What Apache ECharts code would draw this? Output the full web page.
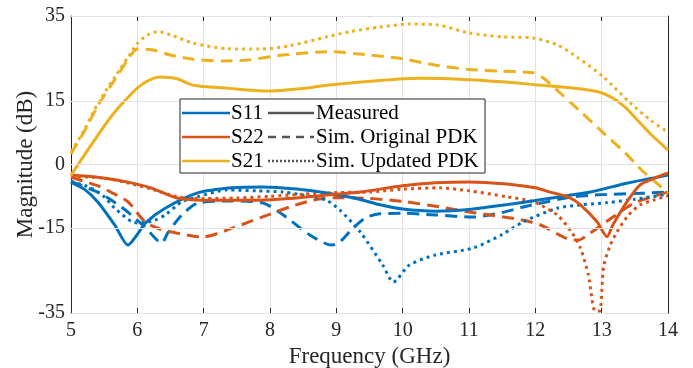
<!DOCTYPE html>
<html>
<head>
<meta charset="utf-8">
<script src="https://cdn.jsdelivr.net/npm/echarts@6/dist/echarts.min.js"></script>
<style>
  html, body { margin: 0; padding: 0; background: #fff; }
  #chart { width: 693px; height: 368px; }
</style>
</head>
<body>
<div id="chart"></div>
<script>
// tick labels
var xTicks = [5, 6, 7, 8, 9, 10, 11, 12, 13, 14];
var yTicks = [-35, -15, 0, 15, 35];

// S21 (yellow)
var s21MeasF = [5, 5.3, 5.6, 5.9, 6.1, 6.34, 6.6, 6.84, 7.35, 7.95, 8.5, 8.86, 9.66, 10.26, 11.0, 11.5, 12.0, 12.5, 12.93, 13.13, 13.35, 13.53, 13.75, 14];
var s21Meas  = [-2.5, 4.5, 11.2, 16.5, 19.2, 20.6, 20.2, 18.7, 18.0, 17.3, 17.9, 18.7, 19.8, 20.3, 20.0, 19.5, 18.8, 18.1, 17.2, 16.0, 13.6, 10.6, 7.0, 3.4];
var s21OrigF = [5, 5.2, 5.41, 5.66, 5.86, 6.0, 6.2, 6.5, 6.84, 7.3, 7.65, 8.2, 8.86, 9.5, 10.0, 10.5, 11.0, 11.5, 11.97, 12.12, 12.4, 12.7, 13.03, 13.35, 13.6, 13.78, 14];
var s21Orig  = [2.5, 7.8, 14.0, 20.0, 24.8, 27.2, 27.1, 25.8, 24.8, 24.4, 24.6, 25.8, 26.6, 25.8, 24.9, 23.4, 22.4, 22.0, 21.6, 20.4, 16.5, 12.2, 7.4, 2.8, -1.3, -3.7, -6.8];
var s21UpdF  = [5, 5.2, 5.41, 5.66, 5.86, 6.0, 6.15, 6.3, 6.5, 6.84, 7.35, 7.85, 8.3, 8.86, 9.2, 9.66, 10.1, 10.52, 11.0, 11.5, 11.97, 12.33, 12.63, 13.03, 13.43, 13.75, 14];
var s21Upd   = [3.0, 8.1, 14.5, 20.6, 25.3, 28.5, 30.5, 31.3, 30.6, 28.6, 27.3, 27.2, 28.0, 30.1, 31.3, 32.4, 33.1, 32.9, 31.0, 30.1, 29.8, 28.2, 25.3, 20.6, 14.5, 10.3, 7.6];

// S11 (blue)
var s11MeasF = [5, 5.2, 5.4, 5.66, 5.86, 6.0, 6.12, 6.42, 6.91, 7.43, 7.9, 8.4, 8.86, 9.3, 9.66, 10.0, 10.5, 11.0, 11.5, 12.0, 12.5, 12.83, 13.38, 14];
var s11Meas  = [-4.2, -5.8, -8.8, -14.3, -19.0, -16.5, -13.8, -10.3, -6.7, -5.5, -5.3, -5.8, -6.7, -8.0, -9.5, -10.5, -11.0, -10.6, -9.6, -8.5, -7.3, -6.5, -4.4, -2.5];
var s11OrigF = [5, 5.4, 5.56, 5.8, 6.1, 6.37, 6.46, 6.67, 6.91, 7.4, 7.9, 8.2, 8.6, 8.93, 9.05, 9.25, 9.45, 9.66, 10.0, 10.5, 11.06, 11.5, 11.82, 12.2, 12.57, 13.0, 13.58, 14];
var s11Orig  = [-4.0, -6.5, -7.9, -10.5, -14.5, -18.5, -16.1, -11.9, -9.1, -8.6, -9.1, -11.9, -16.6, -19.0, -18.3, -15.0, -12.5, -11.6, -11.5, -11.9, -12.4, -11.3, -10.0, -8.7, -7.6, -7.1, -6.8, -6.5];
var s11UpdF  = [5, 5.3, 5.5, 5.66, 5.92, 6.07, 6.27, 6.42, 6.67, 6.91, 7.35, 7.8, 8.2, 8.6, 8.86, 9.05, 9.36, 9.7, 9.86, 10.1, 10.5, 11.06, 11.5, 11.82, 12.33, 12.7, 13.08, 13.5, 14];
var s11Upd   = [-4.0, -5.5, -7.6, -10.3, -13.5, -13.8, -13.1, -11.9, -8.8, -7.6, -6.0, -6.2, -6.5, -7.5, -8.5, -10.7, -15.9, -23.7, -27.7, -23.7, -21.3, -19.7, -16.5, -13.5, -10.3, -9.5, -9.0, -8.2, -7.0];

// S22 (orange)
var s22MeasF = [5, 5.4, 5.84, 6.2, 6.6, 7.0, 7.5, 7.85, 8.3, 8.8, 9.36, 10.0, 10.5, 11.0, 11.57, 12.0, 12.22, 12.5, 12.68, 12.93, 13.08, 13.17, 13.38, 13.58, 13.8, 14];
var s22Meas  = [-2.5, -3.0, -4.1, -5.5, -7.9, -8.4, -8.4, -8.4, -8.0, -7.3, -6.5, -5.0, -4.3, -4.1, -4.6, -5.5, -6.5, -7.7, -9.5, -13.5, -17.0, -14.2, -8.8, -4.8, -3.2, -2.0];
var s22OrigF = [5, 5.4, 5.6, 5.86, 6.12, 6.34, 6.57, 6.98, 7.43, 7.88, 8.3, 8.65, 9.0, 9.5, 10.0, 10.56, 11.0, 11.32, 11.77, 12.07, 12.48, 12.65, 12.83, 13.17, 13.5, 14];
var s22Orig  = [-3.0, -5.0, -6.5, -8.8, -13.6, -15.2, -16.1, -17.1, -15.0, -12.4, -10.0, -8.4, -7.8, -8.0, -8.7, -10.0, -11.2, -11.9, -13.0, -14.2, -17.5, -17.8, -16.1, -12.4, -9.0, -6.5];
var s22UpdF  = [5, 5.5, 5.84, 6.2, 6.6, 7.0, 7.5, 8.0, 8.5, 9.0, 9.5, 10.0, 10.56, 11.0, 11.57, 11.97, 12.33, 12.55, 12.68, 12.8, 12.9, 12.97, 13.03, 13.13, 13.23, 13.4, 13.58, 13.8, 14];
var s22Upd   = [-2.8, -3.2, -4.3, -5.7, -7.6, -8.0, -7.9, -7.5, -7.0, -6.6, -6.5, -5.8, -5.5, -6.2, -7.6, -8.8, -11.9, -16.0, -19.7, -26.0, -34.5, -34.5, -24.0, -19.0, -15.9, -12.0, -9.5, -8.3, -7.4];

var blue = '#0072BD', orange = '#D95319', yellow = '#EDB120', ink = '#262626', gridGray = '#e3e3e3';
var serif = '"Liberation Serif", "DejaVu Serif", serif';

function pairs(f, v) {
    return f.map(function (x, i) { return [x, v[i]]; });
}

function line(name, f, v, color, type) {
    var dash = type === 'dashed' ? [12, 7] : (type === 'dotted' ? [3, 4] : 'solid');
    return {
        name: name,
        type: 'line',
        data: pairs(f, v),
        showSymbol: false,
        smooth: 0.25,
        clip: true,
        z: 3,
        lineStyle: { color: color, width: 3, type: dash, cap: 'butt' }
    };
}

var chart = echarts.init(document.getElementById('chart'), null, { renderer: 'canvas' });

var inkLine = { show: true, onZero: false, lineStyle: { color: ink, width: 1 } };
var inTick = { show: true, inside: true, length: 5, lineStyle: { color: ink } };

// legend drawn by hand (two columns, as in MATLAB)
var lgX = 180, lgY = 99, rowH = 24;
var legendRows = [
    { c: blue, s: 'S11', t: 'Measured', d: null },
    { c: orange, s: 'S22', t: 'Sim. Original PDK', d: [8, 6] },
    { c: yellow, s: 'S21', t: 'Sim. Updated PDK', d: [2, 2] }
];
var legendGraphic = [{
    type: 'rect', z: 100,
    shape: { x: lgX, y: lgY, width: 305, height: 74 },
    style: { fill: '#fff', stroke: ink, lineWidth: 1 }
}];
legendRows.forEach(function (r, i) {
    var cy = lgY + 14 + i * rowH;
    legendGraphic.push({ type: 'line', z: 101, shape: { x1: lgX + 2, y1: cy, x2: lgX + 50, y2: cy },
        style: { stroke: r.c, lineWidth: 2.5 } });
    legendGraphic.push({ type: 'text', z: 101, x: lgX + 51, y: cy,
        style: { text: r.s, font: '21px ' + serif, fill: '#000', textVerticalAlign: 'middle' } });
    legendGraphic.push({ type: 'line', z: 101, shape: { x1: lgX + 88, y1: cy, x2: lgX + 134, y2: cy },
        style: { stroke: '#555', lineWidth: 2.5, lineDash: r.d } });
    legendGraphic.push({ type: 'text', z: 101, x: lgX + 136, y: cy,
        style: { text: r.t, font: '21px ' + serif, fill: '#000', textVerticalAlign: 'middle' } });
});

// horizontal grid lines only at the labelled values
var gridSeries = {
    name: 'grid', type: 'line', data: [], silent: true, z: 1,
    markLine: {
        silent: true, symbol: ['none', 'none'], label: { show: false },
        lineStyle: { color: gridGray, width: 1, type: 'solid' },
        data: yTicks.map(function (v) { return { yAxis: v }; })
    }
};

var option = {
    backgroundColor: '#fff',
    animation: false,
    textStyle: { fontFamily: serif },
    grid: { left: 71, right: 25, top: 16, bottom: 55, containLabel: false, outerBoundsMode: 'none' },
    xAxis: [{
        type: 'value', min: 5, max: 14, interval: 1,
        name: 'Frequency (GHz)', nameLocation: 'middle', nameGap: 31,
        nameTextStyle: { fontSize: 23, color: ink, fontFamily: serif },
        axisLabel: { fontSize: 20, color: ink, margin: 8, fontFamily: serif },
        axisLine: inkLine, axisTick: inTick,
        splitLine: { show: true, lineStyle: { color: gridGray, width: 1 } }
    }, {
        type: 'value', min: 5, max: 14, interval: 1, position: 'top',
        axisLine: inkLine, axisTick: inTick,
        axisLabel: { show: false }, splitLine: { show: false }
    }],
    yAxis: [{
        type: 'value', min: -35, max: 35,
        name: 'Magnitude (dB)', nameLocation: 'middle', nameGap: 34, nameMoveOverlap: false,
        nameTextStyle: { fontSize: 23, color: ink, fontFamily: serif },
        axisLabel: { fontSize: 20, color: ink, margin: 6, fontFamily: serif, customValues: yTicks },
        axisTick: { show: true, inside: true, length: 5, lineStyle: { color: ink }, customValues: yTicks },
        axisLine: inkLine,
        splitLine: { show: false }
    }, {
        type: 'value', min: -35, max: 35, position: 'right',
        axisLabel: { show: false, customValues: yTicks },
        axisTick: { show: true, inside: true, length: 5, lineStyle: { color: ink }, customValues: yTicks },
        axisLine: inkLine,
        splitLine: { show: false }
    }],
    series: [
        gridSeries,
        line('S11 Sim. Original PDK', s11OrigF, s11Orig, blue, 'dashed'),
        line('S22 Sim. Original PDK', s22OrigF, s22Orig, orange, 'dashed'),
        line('S21 Sim. Original PDK', s21OrigF, s21Orig, yellow, 'dashed'),
        line('S11 Sim. Updated PDK', s11UpdF, s11Upd, blue, 'dotted'),
        line('S22 Sim. Updated PDK', s22UpdF, s22Upd, orange, 'dotted'),
        line('S21 Sim. Updated PDK', s21UpdF, s21Upd, yellow, 'dotted'),
        line('S11 Measured', s11MeasF, s11Meas, blue, 'solid'),
        line('S22 Measured', s22MeasF, s22Meas, orange, 'solid'),
        line('S21 Measured', s21MeasF, s21Meas, yellow, 'solid')
    ],
    graphic: legendGraphic
};

chart.setOption(option);
</script>
</body>
</html>
